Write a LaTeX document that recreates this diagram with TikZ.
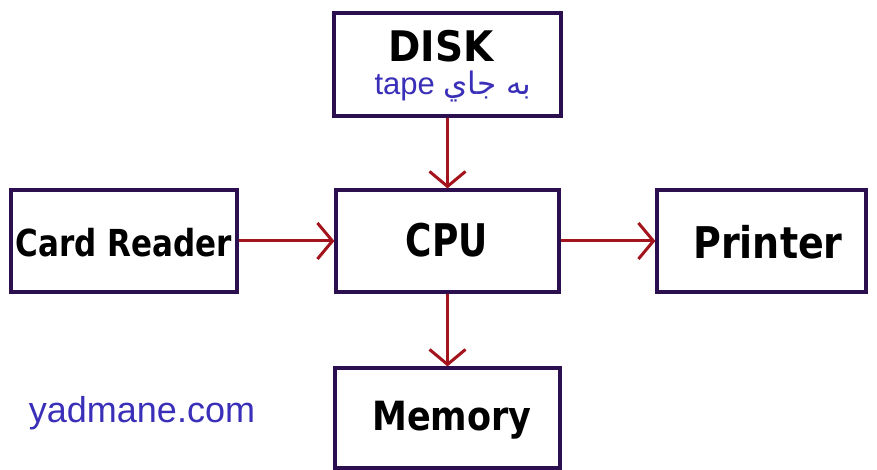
\documentclass[tikz,border=0pt]{standalone}
\usepackage{fontspec}
\usepackage{graphicx}
\setmainfont{DejaVu Sans}
\newfontfamily\arialfont{Liberation Sans}
\newfontfamily\arabicfont[Script=Arabic]{DejaVu Sans}
\TeXXeTstate=1
\usetikzlibrary{arrows.meta}
\definecolor{boxline}{HTML}{2B0F4F}
\definecolor{arrowred}{HTML}{A3141C}
\definecolor{siteblue}{HTML}{3A2FB8}
\newcommand{\tallify}[2]{\scalebox{1}[#1]{#2}}
\tikzset{
  blockbox/.style={draw=boxline, line width=3.2pt, fill=white, inner sep=0pt, anchor=center},
  blocktext/.style={inner sep=0pt, anchor=center, text=black},
  link/.style={draw=arrowred, line width=3pt, -{Straight Barb[length=15pt, width=36pt, line width=3pt]}}
}
\begin{document}
\begin{tikzpicture}[x=1pt,y=1pt]
\useasboundingbox[fill=white] (0,0) rectangle (877,470);
% boxes
\node[blockbox, minimum width=227pt, minimum height=103pt] (disk) at (447.5,405.5) {};
\node[blockbox, minimum width=223pt, minimum height=102pt] (cpu) at (447.5,229) {};
\node[blockbox, minimum width=226pt, minimum height=102pt] (card) at (124,229) {};
\node[blockbox, minimum width=209pt, minimum height=102pt] (printer) at (761.5,229) {};
\node[blockbox, minimum width=225pt, minimum height=100pt] (memory) at (447.5,52) {};
% texts
\node[blocktext, font=\bfseries\fontsize{39}{39}\selectfont] (disktext) at (441,424) {\tallify{1.08}{DISK}};
\node[blocktext, text=siteblue, font=\arialfont\fontsize{31}{31}\selectfont] (tapetext) at (453,383) {tape \arabicfont\beginR به جاي\endR};
\node[blocktext, font=\bfseries\fontsize{36}{36}\selectfont] (cputext) at (447,230) {\tallify{1.25}{CPU}};
\node[blocktext, font=\bfseries\fontsize{31}{31}\selectfont] (cardtext) at (124,227) {\tallify{1.2}{Card Reader}};
\node[blocktext, font=\bfseries\fontsize{38}{38}\selectfont] (printertext) at (768,228) {\tallify{1.15}{Printer}};
\node[blocktext, font=\bfseries\fontsize{35}{35}\selectfont] (memorytext) at (452,50) {\tallify{1.15}{Memory}};
\node[blocktext, text=siteblue, font=\arialfont\fontsize{36}{36}\selectfont] (site) at (142,57) {yadmane.com};
% connectors
\draw[link] (disk.south) -- (cpu.north);
\draw[link] (card.east |- cpu.west) -- (cpu.west);
\draw[link] (cpu.east) -- (printer.west);
\draw[link] (cpu.south) -- (memory.north);
\end{tikzpicture}
\end{document}
